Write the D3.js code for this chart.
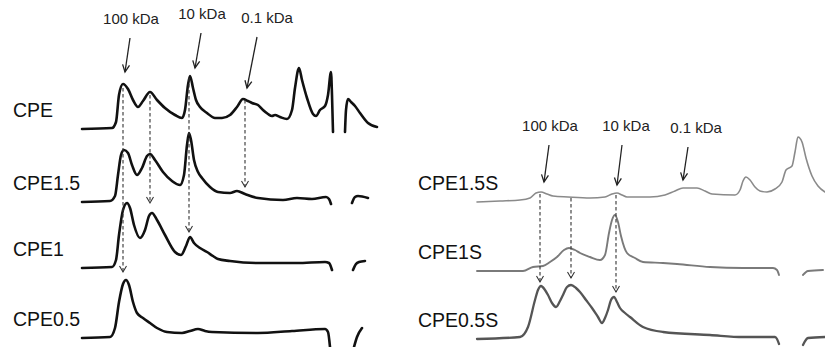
<!DOCTYPE html>
<html>
<head>
<meta charset="utf-8">
<script src="https://cdn.jsdelivr.net/npm/d3@7"></script>
<style>
  body { margin: 0; background: #fff; }
  svg { display: block; font-family: "Liberation Sans", Arial, sans-serif; }
</style>
</head>
<body>
<svg id="chart" width="825" height="347"></svg>
<script>
// elution position (x) and signal above baseline (y); null = gap in trace
const cpe = [[5,0],[35,1],[39,7],[42,34],[46,45],[51,40],[56,29],[61,22],[66,28],[73,37],[80,29],[88,21],[98,14],[105,11],[108,19],[111,44],[113,53],[116,41],[119,29],[123,22],[130,16],[138,11],[145,11],[153,14],[160,22],[166,30],[171,28],[175,26],[181,24],[186,19],[191,15],[195,13],[198,14],[203,12],[210,10],[215,19],[218,41],[222,61],[225,49],[230,31],[236,15],[239,13],[243,19],[248,23],[251,34],[254,57],[255,34],[256,-3],
  null,[268,-3],[269,19],[271,30],[274,27],[278,23],[283,16],[291,6],[300,2]];
const cpe15 = [[5,0],[33,1],[38,6],[41,27],[44,47],[47,52],[51,49],[55,37],[60,27],[65,34],[70,46],[73,48],[78,42],[86,30],[95,21],[103,17],[107,27],[110,57],[112,69],[114,62],[117,42],[121,30],[125,24],[133,15],[141,10],[153,9],[160,11],[168,8],[181,4],[206,2],[220,4],[235,3],[249,5],[252,3],[254,-2],
  null,[275,-1],[278,5],[281,6],[291,4]];
const cpe1 = [[5,0],[35,1],[39,8],[42,33],[46,58],[50,65],[53,60],[57,43],[63,30],[68,38],[72,52],[75,55],[80,48],[88,33],[98,16],[104,13],[109,22],[113,31],[117,25],[123,20],[130,16],[136,12],[141,9],[153,7],[181,5],[220,5],[248,6],[252,5],[255,-2],
  null,[276,-2],[279,4],[282,6],[288,7]];
const cpe05 = [[5,0],[33,1],[38,10],[42,36],[46,54],[49,58],[52,53],[56,36],[60,25],[66,20],[73,15],[80,10],[90,6],[105,5],[113,7],[121,9],[128,7],[135,6],[181,5],[215,7],[248,9],[251,6],[253,-9],
  null,[277,-9],[280,1],[285,10]];

const cpe15s = [[0,0],[23,1],[43,2],[53,4],[59,9],[64,10],[70,8],[76,6],[91,5],[113,4],[128,5],[135,8],[140,9],[145,7],[150,5],[173,5],[188,7],[198,11],[206,14],[220,14],[228,11],[235,8],[258,7],[263,12],[266,21],[269,25],[273,22],[278,15],[283,11],[290,10],[298,13],[305,20],[309,32],[315,36],[318,50],[321,65],[325,60],[329,44],[335,26],[341,16],[348,10]];
const cpe1s = [[0,0],[46,0],[56,4],[66,5],[73,9],[80,14],[87,21],[92,23],[98,21],[103,18],[113,14],[123,11],[128,16],[132,38],[135,51],[138,56],[141,49],[144,35],[150,18],[158,13],[166,9],[186,8],[200,7],[233,4],[266,3],[296,3],[300,1],[302,-4],
  null,[326,-4],[331,0],[346,1]];
const cpe05s = [[0,0],[43,2],[51,12],[58,39],[61,49],[64,53],[68,49],[71,44],[75,36],[79,32],[83,38],[86,44],[90,52],[94,54],[99,51],[103,47],[109,39],[115,31],[121,22],[125,16],[128,21],[131,29],[134,39],[137,42],[140,37],[143,31],[148,26],[153,22],[166,12],[186,7],[233,4],[266,2],[298,2],[300,0],[302,-5],
  null,[326,-6],[331,1],[348,2]];

const leftNames = ["CPE", "CPE1.5", "CPE1", "CPE0.5"];
const rightNames = ["CPE1.5S", "CPE1S", "CPE0.5S"];
const markerLabels = ["100 kDa", "10 kDa", "0.1 kDa"];

// marker arrows: label x, arrow start/end x, start/end signal (on top trace)
const leftMarkers = [[54, 53, 48, 91, 57], [125, 124, 118, 96, 61], [190, 180, 170, 92, 41]];
const rightMarkers = [[73, 72, 67, 57, 20], [149, 145, 140, 57, 17], [219, 211, 206, 55, 22]];

// dashed guides: x, from trace, from signal, to trace, to signal
const leftGuides = [[46, 0, 41, 3, 66], [73, 0, 34, 2, 65], [112, 0, 51, 2, 36], [168, 0, 29, 1, 15]];
const rightGuides = [[63, 0, 8, 2, 57], [94, 0, 4, 2, 61], [139, 0, 7, 2, 47]];

const svg = d3.select("#chart");

function panel(opts) {
  const x = d3.scaleLinear().domain(opts.xDomain).range(opts.xRange);
  const ys = opts.bases.map(b => d3.scaleLinear().domain([0, 100]).range([b, b - 100]));
  const g = svg.append("g");

  opts.series.forEach((data, i) => {
    const line = d3.line()
      .defined(d => d !== null)
      .x(d => x(d[0]))
      .y(d => ys[i](d[1]))
      .curve(d3.curveMonotoneX);
    g.append("path")
      .attr("d", line(data))
      .attr("fill", "none")
      .attr("stroke", opts.colors[i])
      .attr("stroke-width", opts.widths[i])
      .attr("stroke-linejoin", "round")
      .attr("stroke-linecap", "round");

    g.append("text")
      .attr("x", opts.labelX)
      .attr("y", ys[i](opts.labelSig))
      .attr("dy", "0.35em")
      .attr("font-size", 19.5)
      .attr("fill", "#111")
      .text(opts.names[i]);
  });

  // dashed guides with open arrowheads
  opts.guides.forEach(d => {
    const gx = x(d[0]), y1 = ys[d[1]](d[2]), y2 = ys[d[3]](d[4]);
    g.append("line")
      .attr("x1", gx).attr("x2", gx).attr("y1", y1).attr("y2", y2)
      .attr("stroke", "#333").attr("stroke-width", 1.1)
      .attr("stroke-dasharray", "3.5,2.5");
    g.append("path")
      .attr("d", `M${gx - 3.5},${y2 - 6}L${gx},${y2}L${gx + 3.5},${y2 - 6}`)
      .attr("fill", "none").attr("stroke", "#333").attr("stroke-width", 1.1);
  });

  // labelled arrows above top trace
  opts.markers.forEach((d, i) => {
    const x1 = x(d[1]), x2 = x(d[2]), y1 = ys[0](d[3]), y2 = ys[0](d[4]);
    g.append("text")
      .attr("x", x(d[0]))
      .attr("y", y1 - 14)
      .attr("text-anchor", "middle")
      .attr("font-size", 15)
      .attr("fill", "#222")
      .text(markerLabels[i]);
    g.append("line")
      .attr("x1", x1).attr("y1", y1).attr("x2", x2).attr("y2", y2)
      .attr("stroke", "#222").attr("stroke-width", 1.3);
    const a = Math.atan2(y2 - y1, x2 - x1);
    const len = 8, spread = 0.45;
    const p1 = [x2 - len * Math.cos(a - spread), y2 - len * Math.sin(a - spread)];
    const p2 = [x2 - len * Math.cos(a + spread), y2 - len * Math.sin(a + spread)];
    g.append("path")
      .attr("d", `M${p1}L${x2},${y2}L${p2}`)
      .attr("fill", "none").attr("stroke", "#222").attr("stroke-width", 1.3);
  });
}

panel({
  xDomain: [0, 300], xRange: [77, 377],
  bases: [129, 202, 268, 338],
  series: [cpe, cpe15, cpe1, cpe05],
  names: leftNames,
  colors: ["#111", "#111", "#111", "#111"],
  widths: [2.6, 2.6, 2.6, 2.6],
  labelX: 13, labelSig: 19,
  guides: leftGuides,
  markers: leftMarkers
});

panel({
  xDomain: [0, 350], xRange: [477, 827],
  bases: [202, 271, 339],
  series: [cpe15s, cpe1s, cpe05s],
  names: rightNames,
  colors: ["#8a8a8a", "#7a7a7a", "#555"],
  widths: [1.6, 1.9, 2.3],
  labelX: 418, labelSig: 19,
  guides: rightGuides,
  markers: rightMarkers
});
</script>
</body>
</html>
